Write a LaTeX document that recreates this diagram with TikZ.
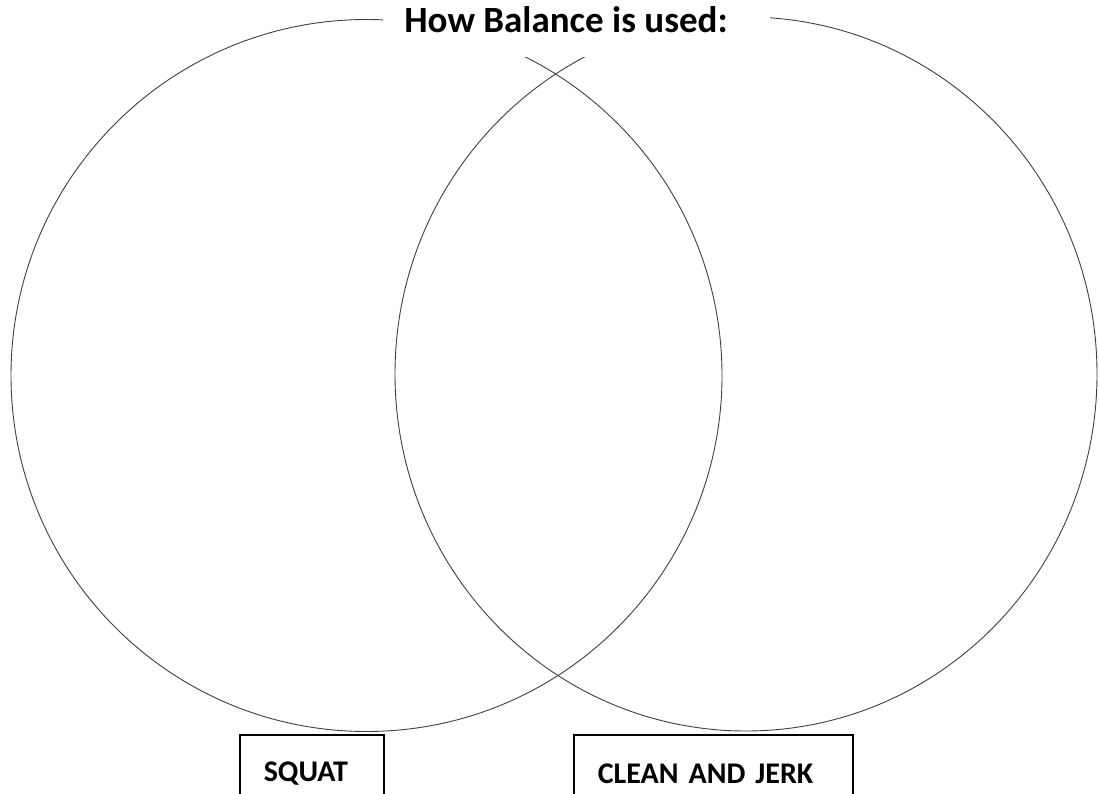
\documentclass[tikz,border=0pt]{standalone}
\usepackage{fontspec}
\setmainfont{Carlito}
\usetikzlibrary{positioning}
\tikzset{
	venn/.style = {draw=black!75, line width=0.9pt}, % the two big rings
	titlemask/.style = {fill=white, inner sep=0pt, minimum width=387pt, minimum height=57pt, anchor=north west},
	titletext/.style = {inner sep=0pt, font=\fontsize{37}{44}\selectfont\bfseries},
	labelbox/.style = {draw, line width=1.6pt, anchor=north west, align=left, inner xsep=24pt,
		minimum height=78pt, font=\fontsize{30}{36}\selectfont\bfseries}
}

\begin{document}
\begin{tikzpicture}[x=1pt,y=-1pt]
	\useasboundingbox (0,0) rectangle (1099,794);
	\clip (0,0) rectangle (1099,794);
	\coordinate (lc) at (366.5,375.5);
	\coordinate (rc) at (746,374);
	\draw[venn] (lc) ellipse [x radius=355.5, y radius=356];
	\draw[venn] (rc) ellipse [x radius=351, y radius=357];
	\node[titlemask] (mask) at (383,0) {};
	\node[titletext] (title) at (566,20) {How Balance is used:};
	\node[labelbox, text width=96pt] (squat) at (239,734) {SQUAT};
	\node[labelbox, text width=231pt] (clean) at (573,734) {CLEAN AND JERK};
\end{tikzpicture}
\end{document}
